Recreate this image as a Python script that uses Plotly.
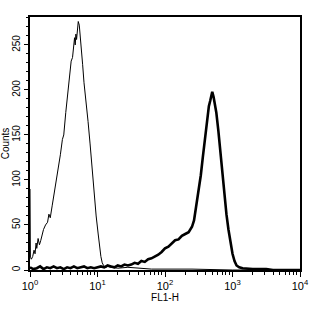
import plotly.graph_objects as go

# Thin histogram (unstained/control): log10(FL1-H) and counts
thin_log = [0.000, 0.006, 0.02, 0.04, 0.06, 0.075, 0.09, 0.10, 0.12, 0.14, 0.16, 0.18, 0.20, 0.23,
            0.26, 0.28, 0.30, 0.33, 0.36, 0.39, 0.42, 0.45, 0.48, 0.50, 0.53, 0.56, 0.59, 0.61,
            0.63, 0.645, 0.66, 0.67, 0.68, 0.69, 0.70, 0.715, 0.73, 0.745, 0.76, 0.78, 0.80,
            0.83, 0.86, 0.89, 0.92, 0.95, 0.98, 1.01, 1.03, 1.05, 1.07, 1.09, 1.12, 1.15, 1.20,
            1.30, 1.45, 1.60, 1.80, 2.00, 2.40, 3.00, 3.50, 4.00]
thin_counts = [90, 14, 12, 15, 22, 18, 30, 24, 35, 28, 33, 40, 45, 50,
               53, 62, 58, 72, 85, 100, 112, 128, 145, 150, 175, 195, 212, 232,
               236, 245, 258, 250, 262, 256, 266, 276, 272, 255, 245, 228, 208,
               188, 165, 140, 112, 85, 60, 40, 25, 15, 8, 5, 3, 4, 3,
               2, 3, 2, 1, 1, 1, 0, 0, 0]

# Thick histogram (stained sample)
thick_log = [0.00, 0.05, 0.10, 0.15, 0.20, 0.25, 0.30, 0.35, 0.40, 0.45, 0.50, 0.55, 0.60, 0.65,
             0.70, 0.75, 0.80, 0.85, 0.90, 0.95, 1.00, 1.05, 1.10, 1.15, 1.20, 1.25, 1.30, 1.35,
             1.40, 1.45, 1.50, 1.55, 1.60, 1.65, 1.70, 1.75, 1.80, 1.85, 1.90, 1.95, 2.00, 2.05,
             2.10, 2.15, 2.20, 2.25, 2.30, 2.35, 2.40, 2.43, 2.46, 2.50, 2.53, 2.56, 2.59, 2.62,
             2.65, 2.67, 2.69, 2.70, 2.72, 2.74, 2.76, 2.79, 2.82, 2.85, 2.88, 2.91, 2.94, 2.97,
             3.00, 3.03, 3.06, 3.10, 3.15, 3.30, 3.50, 3.60, 3.80, 4.00]
thick_counts = [3, 1, 2, 4, 1, 3, 2, 4, 2, 3, 1, 3, 2, 4,
                2, 3, 4, 2, 3, 2, 3, 4, 3, 5, 4, 3, 5, 4,
                6, 5, 6, 8, 7, 10, 9, 12, 13, 15, 17, 20, 24, 26,
                30, 33, 34, 38, 40, 42, 48, 55, 70, 88, 105, 125, 145, 165,
                182, 188, 195, 198, 192, 185, 175, 155, 130, 105, 82, 62, 45, 30,
                18, 10, 5, 3, 2, 1, 1, 0, 0, 0]

x_tickvals = [1, 10, 100, 1000, 10000]
x_ticktext = ["10<sup>0</sup>", "10<sup>1</sup>", "10<sup>2</sup>", "10<sup>3</sup>", "10<sup>4</sup>"]
y_tickvals = [0, 50, 100, 150, 200, 250]

thin_x = [10 ** v for v in thin_log]
thick_x = [10 ** v for v in thick_log]

fig = go.Figure()
fig.add_trace(go.Scatter(x=thin_x, y=thin_counts, mode="lines",
                         line=dict(color="black", width=1), showlegend=False))
fig.add_trace(go.Scatter(x=thick_x, y=thick_counts, mode="lines",
                         line=dict(color="black", width=2.6), showlegend=False))

font_family = "Liberation Sans Narrow, Liberation Sans, Arial, sans-serif"

fig.update_layout(
    width=312, height=312,
    margin=dict(l=30, r=12, t=17, b=42),
    paper_bgcolor="white", plot_bgcolor="white",
    font=dict(family=font_family, size=11, color="black"),
    xaxis=dict(
        type="log", range=[0, 4], automargin=False,
        tickvals=x_tickvals, ticktext=x_ticktext,
        ticks="outside", ticklen=5, tickwidth=1, tickcolor="black",
        minor=dict(ticks="outside", ticklen=3, tickcolor="black", dtick="D1", showgrid=False),
        showline=True, linecolor="black", linewidth=1.5, mirror=True,
        showgrid=False, zeroline=False,
        title=dict(text="FL1-H", font=dict(size=10), standoff=2),
        tickfont=dict(size=11),
    ),
    yaxis=dict(
        range=[0, 281], automargin=False,
        tickmode="array", tickvals=y_tickvals, tickangle=-90,
        ticks="outside", ticklen=4, tickwidth=1, tickcolor="black",
        minor=dict(ticks="outside", ticklen=2, tickcolor="black", dtick=10, showgrid=False),
        showline=True, linecolor="black", linewidth=1.5, mirror=True,
        showgrid=False, zeroline=False,
        title=dict(text="Counts", font=dict(size=10), standoff=4),
        tickfont=dict(size=10),
    ),
)

fig.write_html("out.html")
